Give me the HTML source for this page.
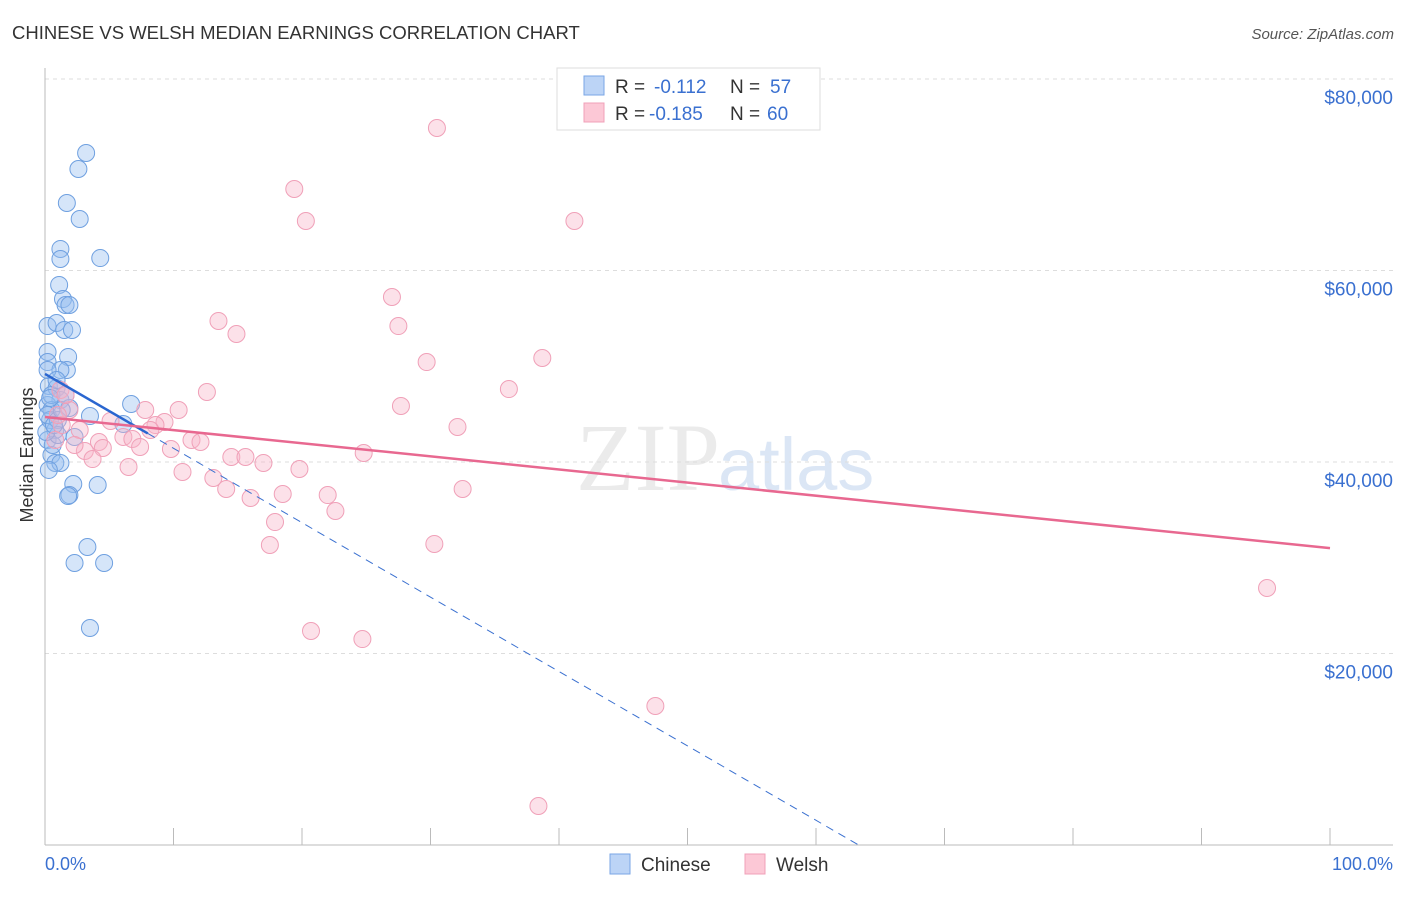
<!DOCTYPE html>
<html><head><meta charset="utf-8"><style>
body{margin:0;background:#fff;font-family:"Liberation Sans",sans-serif;}
</style></head><body>
<svg width="1406" height="892" viewBox="0 0 1406 892" id="chart" font-family="Liberation Sans, sans-serif">
<text x="12" y="39" font-size="18.5" fill="#333">CHINESE VS WELSH MEDIAN EARNINGS CORRELATION CHART</text>
<text x="1394" y="39" font-size="15" fill="#555" text-anchor="end" font-style="italic">Source: ZipAtlas.com</text>
<text x="720" y="490" font-size="96" fill="#ebebeb" text-anchor="end" font-family="Liberation Serif, serif">ZIP</text>
<text x="718" y="490" font-size="74" fill="#dbe6f5">atlas</text>
<g id="grid"></g>
<line x1="45" y1="68" x2="45" y2="845" stroke="#bbb"/>
<line x1="45" y1="845" x2="1393" y2="845" stroke="#bbb"/>
<text x="33" y="455" font-size="18" fill="#333" text-anchor="middle" transform="rotate(-90 33 455)">Median Earnings</text>
<text x="45" y="870" font-size="18" fill="#3a70d0">0.0%</text>
<text x="1393" y="870" font-size="18" fill="#3a70d0" text-anchor="end">100.0%</text>
<g id="marks"></g>
<g>
<rect x="557" y="68" width="263" height="62" fill="#fff" stroke="#ddd"/>
<rect x="584" y="76" width="20" height="19" fill="#bcd4f6" stroke="#7aa6e6"/>
<rect x="584" y="103" width="20" height="19" fill="#fcc8d6" stroke="#f0a0b8"/>
<text x="615" y="93" font-size="19" fill="#333">R =<tspan x="654" fill="#3a70d0">-0.112</tspan><tspan x="730">N =</tspan><tspan x="770" fill="#3a70d0">57</tspan></text>
<text x="615" y="120" font-size="19" fill="#333">R =<tspan x="649" fill="#3a70d0">-0.185</tspan><tspan x="730">N =</tspan><tspan x="767" fill="#3a70d0">60</tspan></text>
</g>
<g>
<rect x="610" y="854" width="20" height="20" fill="#bcd4f6" stroke="#7aa6e6"/>
<text x="641" y="871" font-size="19" fill="#333">Chinese</text>
<rect x="745" y="854" width="20" height="20" fill="#fcc8d6" stroke="#f0a0b8"/>
<text x="776" y="871" font-size="19" fill="#333">Welsh</text>
</g>
</svg>
<script>
const yTicks=[20000,40000,60000,80000];
const yTickLabels=["$20,000","$40,000","$60,000","$80,000"];
const chineseX=[3.2,2.6,1.7,2.7,1.2,1.2,4.3,1.1,1.4,1.6,1.9,0.2,0.9,1.5,2.1,0.2,1.8,0.2,1.7,1.2,0.3,0.9,1.2,0.2,0.5,1.9,3.5,6.7,6.1,0.4,0.8,0.2,2.3,0.5,0.8,1.2,4.1,2.2,1.9,1.8,3.3,2.3,4.6,3.5,0.2,0.5,0.2,0.6,1.0,1.3,0.4,1.0,0.1,0.9,1.6,0.3,0.7];
const chineseY=[72270,70600,67050,65380,62250,61200,61300,58490,57020,56400,56400,54200,54520,53790,53790,51490,50970,50440,49610,49610,47940,47730,46480,45950,45430,45640,44800,46060,43970,44390,43340,42300,42610,40730,39900,39900,37600,37700,36550,36450,31120,29450,29450,22660,49610,47000,44910,41780,44390,45430,46690,42820,43130,48560,47000,39170,43860];
const welshX=[30.5,19.4,20.3,41.2,27.0,13.5,14.9,27.5,29.7,38.7,12.6,36.1,27.7,10.4,7.8,32.1,9.3,8.6,5.1,6.1,11.4,12.1,4.2,6.8,3.1,4.5,7.4,8.2,3.7,9.8,14.5,15.6,17.0,6.5,10.7,19.8,24.8,13.1,14.1,16.0,18.5,22.0,32.5,22.6,17.9,17.5,30.3,20.7,24.7,95.1,47.5,38.4,1.2,1.9,1.3,2.7,0.8,1.6,2.3,1.0];
const welshY=[74880,68510,65170,65170,57230,54730,53370,54200,50440,50860,47310,47620,45850,45430,45430,43660,44180,43860,44280,42610,42300,42090,42090,42400,41150,41460,41570,43340,40310,41360,40520,40520,39900,39480,38960,39270,40940,38330,37180,36240,36660,36550,37180,34880,33730,31330,31440,22350,21510,26840,14520,4070,47520,45430,43860,43340,42300,47000,41780,44910];
const chineseTrend=[49200,-777];
const chineseSolidEnd=8;
const welshTrend=[44700,-137];
const NS="http://www.w3.org/2000/svg";
function xs(v){return 45+v*12.85;}
function ys(v){return 845-v*766/80000;}
function mk(tag,attrs,parent){const e=document.createElementNS(NS,tag);for(const k in attrs)e.setAttribute(k,attrs[k]);parent.appendChild(e);return e;}
const grid=document.getElementById('grid'),marks=document.getElementById('marks');
yTicks.forEach((t,i)=>{
  const l=mk('line',{x1:45,x2:1393,y1:ys(t),y2:ys(t),stroke:'#ddd','stroke-dasharray':'4,4'},grid);
  
  
  const tx=mk('text',{x:1393,y:ys(t)+25,'font-size':19,fill:'#3a70d0','text-anchor':'end'},grid);
  tx.textContent=yTickLabels[i];
  
  
});
for(let i=0;i<=10;i++){
  const t=mk('line',{x1:xs(i*10),x2:xs(i*10),y1:828,y2:845,stroke:'#bbb'},grid);
  
  
}
chineseX.forEach((x,i)=>{
  const c=mk('circle',{cx:xs(x),cy:ys(chineseY[i]),r:8.5,fill:'rgba(150,190,240,0.4)',stroke:'#6fa0e0','stroke-width':1},marks);
  
  
});
welshX.forEach((x,i)=>{
  const c=mk('circle',{cx:xs(x),cy:ys(welshY[i]),r:8.5,fill:'rgba(248,180,200,0.4)',stroke:'#f0a0b8','stroke-width':1},marks);
  
  
});
const zeroX=-chineseTrend[0]/chineseTrend[1];
const d=mk('line',{x1:xs(chineseSolidEnd),y1:ys(chineseTrend[0]+chineseTrend[1]*chineseSolidEnd),x2:xs(zeroX),y2:ys(0),stroke:'#3a70d0','stroke-width':1,'stroke-dasharray':'8,6'},marks);


const s=mk('line',{x1:xs(0),y1:ys(chineseTrend[0]),x2:xs(chineseSolidEnd),y2:ys(chineseTrend[0]+chineseTrend[1]*chineseSolidEnd),stroke:'#2a66d0','stroke-width':2.5},marks);


const w=mk('line',{x1:xs(0),y1:ys(welshTrend[0]),x2:xs(100),y2:ys(welshTrend[0]+welshTrend[1]*100),stroke:'#e86890','stroke-width':2.5},marks);


</script>
</body></html>
